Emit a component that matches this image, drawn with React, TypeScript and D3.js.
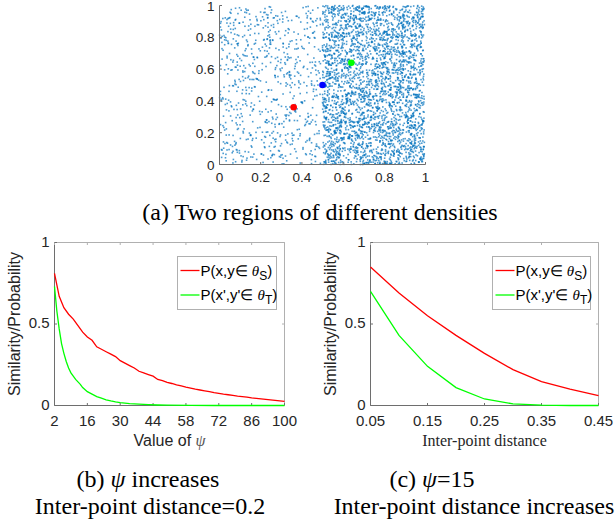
import React from 'react'
import * as d3 from 'd3'

// panel (a): two uniform regions, left sparse and right dense
const regionX0 = [0, 0.5]
const regionX1 = [0.49, 0.995]
const regionCount = [720, 3000]
const regionSeed = [17, 91]

const markerColors = ['#ff0000', '#0000ff', '#00ff00']
const markerX = [0.36, 0.5, 0.64]
const markerY = [0.36, 0.5, 0.64]

const unitTicks = [0, 0.2, 0.4, 0.6, 0.8, 1]

// panel (b): psi increases
const psiRedX = [2, 4, 6, 8, 10, 12, 14, 16, 18, 20, 22, 24, 26, 28, 30, 32, 34, 36, 38, 40, 42, 44, 46, 48, 50,
  52, 54, 56, 58, 60, 62, 64, 66, 68, 70, 72, 74, 76, 78, 80, 82, 84, 86, 88, 90, 92, 94, 96, 98, 100]
const psiRed = [0.81, 0.67, 0.6, 0.56, 0.53, 0.49, 0.45, 0.42, 0.4, 0.36, 0.345, 0.33, 0.315, 0.3, 0.275, 0.26,
  0.245, 0.23, 0.21, 0.2, 0.19, 0.18, 0.16, 0.152, 0.142, 0.135, 0.127, 0.12, 0.113, 0.107, 0.1, 0.095, 0.09,
  0.085, 0.079, 0.075, 0.07, 0.066, 0.062, 0.058, 0.055, 0.052, 0.047, 0.044, 0.041, 0.038, 0.035, 0.032,
  0.029, 0.025]
const psiGreenX = [2, 3, 4, 5, 6, 7, 8, 9, 10, 11, 12, 13, 14, 16, 18, 20, 22, 24, 26, 28, 30, 34, 38, 42, 46,
  50, 60, 70, 100]
const psiGreen = [0.73, 0.58, 0.47, 0.38, 0.32, 0.27, 0.23, 0.2, 0.18, 0.16, 0.145, 0.13, 0.11, 0.085, 0.07,
  0.055, 0.045, 0.035, 0.028, 0.022, 0.018, 0.012, 0.008, 0.005, 0.003, 0.002, 0.001, 0, 0]
const psiTicks = [2, 16, 30, 44, 58, 72, 86, 100]

// panel (c): inter-point distance increases
const distX = [0.05, 0.1, 0.15, 0.2, 0.25, 0.3, 0.35, 0.4, 0.45]
const distRed = [0.85, 0.69, 0.55, 0.43, 0.32, 0.22, 0.147, 0.1, 0.061]
const distGreen = [0.7, 0.43, 0.24, 0.11, 0.04, 0.01, 0.002, 0, 0]
const distTicks = [0.05, 0.15, 0.25, 0.35, 0.45]

const probTicks = [0, 0.5, 1]

const SANS = '"Liberation Sans", Arial, sans-serif'
const SERIF = '"Liberation Serif", "Times New Roman", serif'
const AXIS = '#6e6e6e'
const BOX = '#b0b0b0'

// seeded generator so the scatter is the same every run
function mulberry32(a: number) {
  return function () {
    a |= 0; a = (a + 0x6d2b79f5) | 0
    let t = Math.imul(a ^ (a >>> 15), 1 | a)
    t = (t + Math.imul(t ^ (t >>> 7), 61 | t)) ^ t
    return ((t ^ (t >>> 14)) >>> 0) / 4294967296
  }
}

const scatterPts: { x: number; y: number }[] = []
regionCount.forEach((n, r) => {
  const rnd = mulberry32(regionSeed[r])
  for (let i = 0; i < n; i++) {
    scatterPts.push({ x: regionX0[r] + rnd() * (regionX1[r] - regionX0[r]), y: rnd() })
  }
})

const Scatter = () => {
  const x = d3.scaleLinear().domain([0, 1]).range([219.5, 425.5])
  const y = d3.scaleLinear().domain([0, 1]).range([164.5, 5.5])
  return (
    <g>
      {scatterPts.map((p, i) => (
        <rect key={i} x={x(p.x) - 0.8} y={y(p.y) - 0.8} width={1.6} height={1.6} fill="#0072bd" opacity={0.7} />
      ))}
      {markerX.map((mx, i) => (
        <circle key={'m' + i} cx={x(mx)} cy={y(markerY[i])} r={3.3} fill={markerColors[i]} />
      ))}
      <line x1={x(0)} x2={x(1)} y1={y(0)} y2={y(0)} stroke={AXIS} />
      <line x1={x(0)} x2={x(0)} y1={y(0)} y2={y(1)} stroke={AXIS} />
      {unitTicks.map(t => (
        <g key={'t' + t}>
          <line x1={x(t)} x2={x(t)} y1={y(0)} y2={y(0) - 2.5} stroke={AXIS} />
          <line x1={x(0)} x2={x(0) + 2.5} y1={y(t)} y2={y(t)} stroke={AXIS} />
          <text x={x(t)} y={y(0) + 17} textAnchor="middle" fontSize={13.5} fontFamily={SANS} fill="#262626">{String(t)}</text>
          <text x={x(0) - 5} y={y(t) + 5} textAnchor="end" fontSize={13.5} fontFamily={SANS} fill="#262626">{String(t)}</text>
        </g>
      ))}
    </g>
  )
}

const LegendEntry = ({ x, y, color, prime, sub }: { x: number; y: number; color: string; prime: boolean; sub: string }) => (
  <g>
    <line x1={x} x2={x + 19} y1={y} y2={y} stroke={color} strokeWidth={1.3} />
    <text x={x + 20} y={y + 5} fontSize={15} fontFamily={SANS} fill="#000">
      {prime ? "P(x',y'" : 'P(x,y'}
      <tspan>∈ </tspan>
      <tspan fontFamily={SERIF} fontStyle="italic">θ</tspan>
      <tspan fontSize={12} dy={4}>{sub}</tspan>
      <tspan dy={-4}>)</tspan>
    </text>
  </g>
)

type LinePanelProps = {
  left: number; right: number
  xDomain: [number, number]; xTicks: number[]; fmt: (v: number) => string
  redX: number[]; red: number[]; greenX: number[]; green: number[]
  legendLeft: number; legendRight: number
  xlabel: React.ReactNode
}

const LinePanel = (p: LinePanelProps) => {
  const top = 242.5, bottom = 405.5
  const x = d3.scaleLinear().domain(p.xDomain).range([p.left, p.right])
  const y = d3.scaleLinear().domain([0, 1]).range([bottom, top])
  const line = d3.line<[number, number]>().x(d => x(d[0])).y(d => y(d[1]))
  const redPts = p.redX.map((v, i) => [v, p.red[i]] as [number, number])
  const greenPts = p.greenX.map((v, i) => [v, p.green[i]] as [number, number])
  return (
    <g>
      <line x1={p.left} x2={p.right} y1={top} y2={top} stroke={BOX} />
      <line x1={p.right} x2={p.right} y1={top} y2={bottom} stroke={BOX} />
      <line x1={p.left} x2={p.right} y1={bottom} y2={bottom} stroke={AXIS} />
      <line x1={p.left} x2={p.left} y1={top} y2={bottom} stroke={AXIS} />
      {p.xTicks.map(t => (
        <g key={'x' + t}>
          <line x1={x(t)} x2={x(t)} y1={bottom} y2={bottom - 2.5} stroke={AXIS} />
          <line x1={x(t)} x2={x(t)} y1={top} y2={top + 2.5} stroke={BOX} />
          <text x={x(t)} y={bottom + 20} textAnchor="middle" fontSize={15} fontFamily={SANS} fill="#262626">{p.fmt(t)}</text>
        </g>
      ))}
      {probTicks.map(t => (
        <g key={'y' + t}>
          <line x1={p.left} x2={p.left + 2.5} y1={y(t)} y2={y(t)} stroke={AXIS} />
          <line x1={p.right} x2={p.right - 2.5} y1={y(t)} y2={y(t)} stroke={BOX} />
          <text x={p.left - 5} y={y(t) + 4} textAnchor="end" fontSize={15} fontFamily={SANS} fill="#262626">{String(t)}</text>
        </g>
      ))}
      <path d={line(redPts) || ''} fill="none" stroke="#ff0000" strokeWidth={1.3} />
      <path d={line(greenPts) || ''} fill="none" stroke="#00ff00" strokeWidth={1.3} />
      <text transform={`translate(${p.left - 35},${(top + bottom) / 2}) rotate(-90)`} textAnchor="middle"
        fontSize={16} fontFamily={SANS} fill="#262626">Similarity/Probability</text>
      <g transform={`translate(${(p.left + p.right) / 2},${bottom + 40})`}>{p.xlabel}</g>
      <rect x={p.legendLeft} y={256.5} width={p.legendRight - p.legendLeft} height={53} fill="#fff" stroke={BOX} />
      <LegendEntry x={p.legendLeft + 3} y={270.5} color="#ff0000" prime={false} sub="S" />
      <LegendEntry x={p.legendLeft + 3} y={295} color="#00ff00" prime={true} sub="T" />
    </g>
  )
}

export default function App() {
  return (
    <div style={{ position: 'absolute', left: 0, top: 0 }}>
      <svg width={616} height={523} style={{ display: 'block', background: '#fff' }}>
        <Scatter />
        <text x={320} y={220} textAnchor="middle" fontSize={24} fontFamily={SERIF}>(a) Two regions of different densities</text>
        <LinePanel left={54.5} right={284.5} xDomain={[2, 100]} xTicks={psiTicks} fmt={v => String(v)}
          redX={psiRedX} red={psiRed} greenX={psiGreenX} green={psiGreen} legendLeft={177.5} legendRight={276.5}
          xlabel={<text textAnchor="middle" fontSize={16} fontFamily={SANS} fill="#262626">Value of <tspan fontFamily={SERIF} fontStyle="italic" fill="#555">ψ</tspan></text>} />
        <LinePanel left={370.5} right={598.5} xDomain={[0.05, 0.45]} xTicks={distTicks} fmt={v => v.toFixed(2)}
          redX={distX} red={distRed} greenX={distX} green={distGreen} legendLeft={492.5} legendRight={590.5}
          xlabel={<text textAnchor="middle" fontSize={16} fontFamily={SERIF} fill="#262626">Inter-point distance</text>} />
        <text x={148} y={487} textAnchor="middle" fontSize={24} fontFamily={SERIF}>(b) <tspan fontStyle="italic">ψ</tspan> increases</text>
        <text x={150} y={514} textAnchor="middle" fontSize={24} fontFamily={SERIF}>Inter-point distance=0.2</text>
        <text x={432} y={487} textAnchor="middle" fontSize={24} fontFamily={SERIF}>(c) <tspan fontStyle="italic">ψ</tspan>=15</text>
        <text x={474} y={514} textAnchor="middle" fontSize={24} fontFamily={SERIF}>Inter-point distance increases</text>
      </svg>
    </div>
  )
}
